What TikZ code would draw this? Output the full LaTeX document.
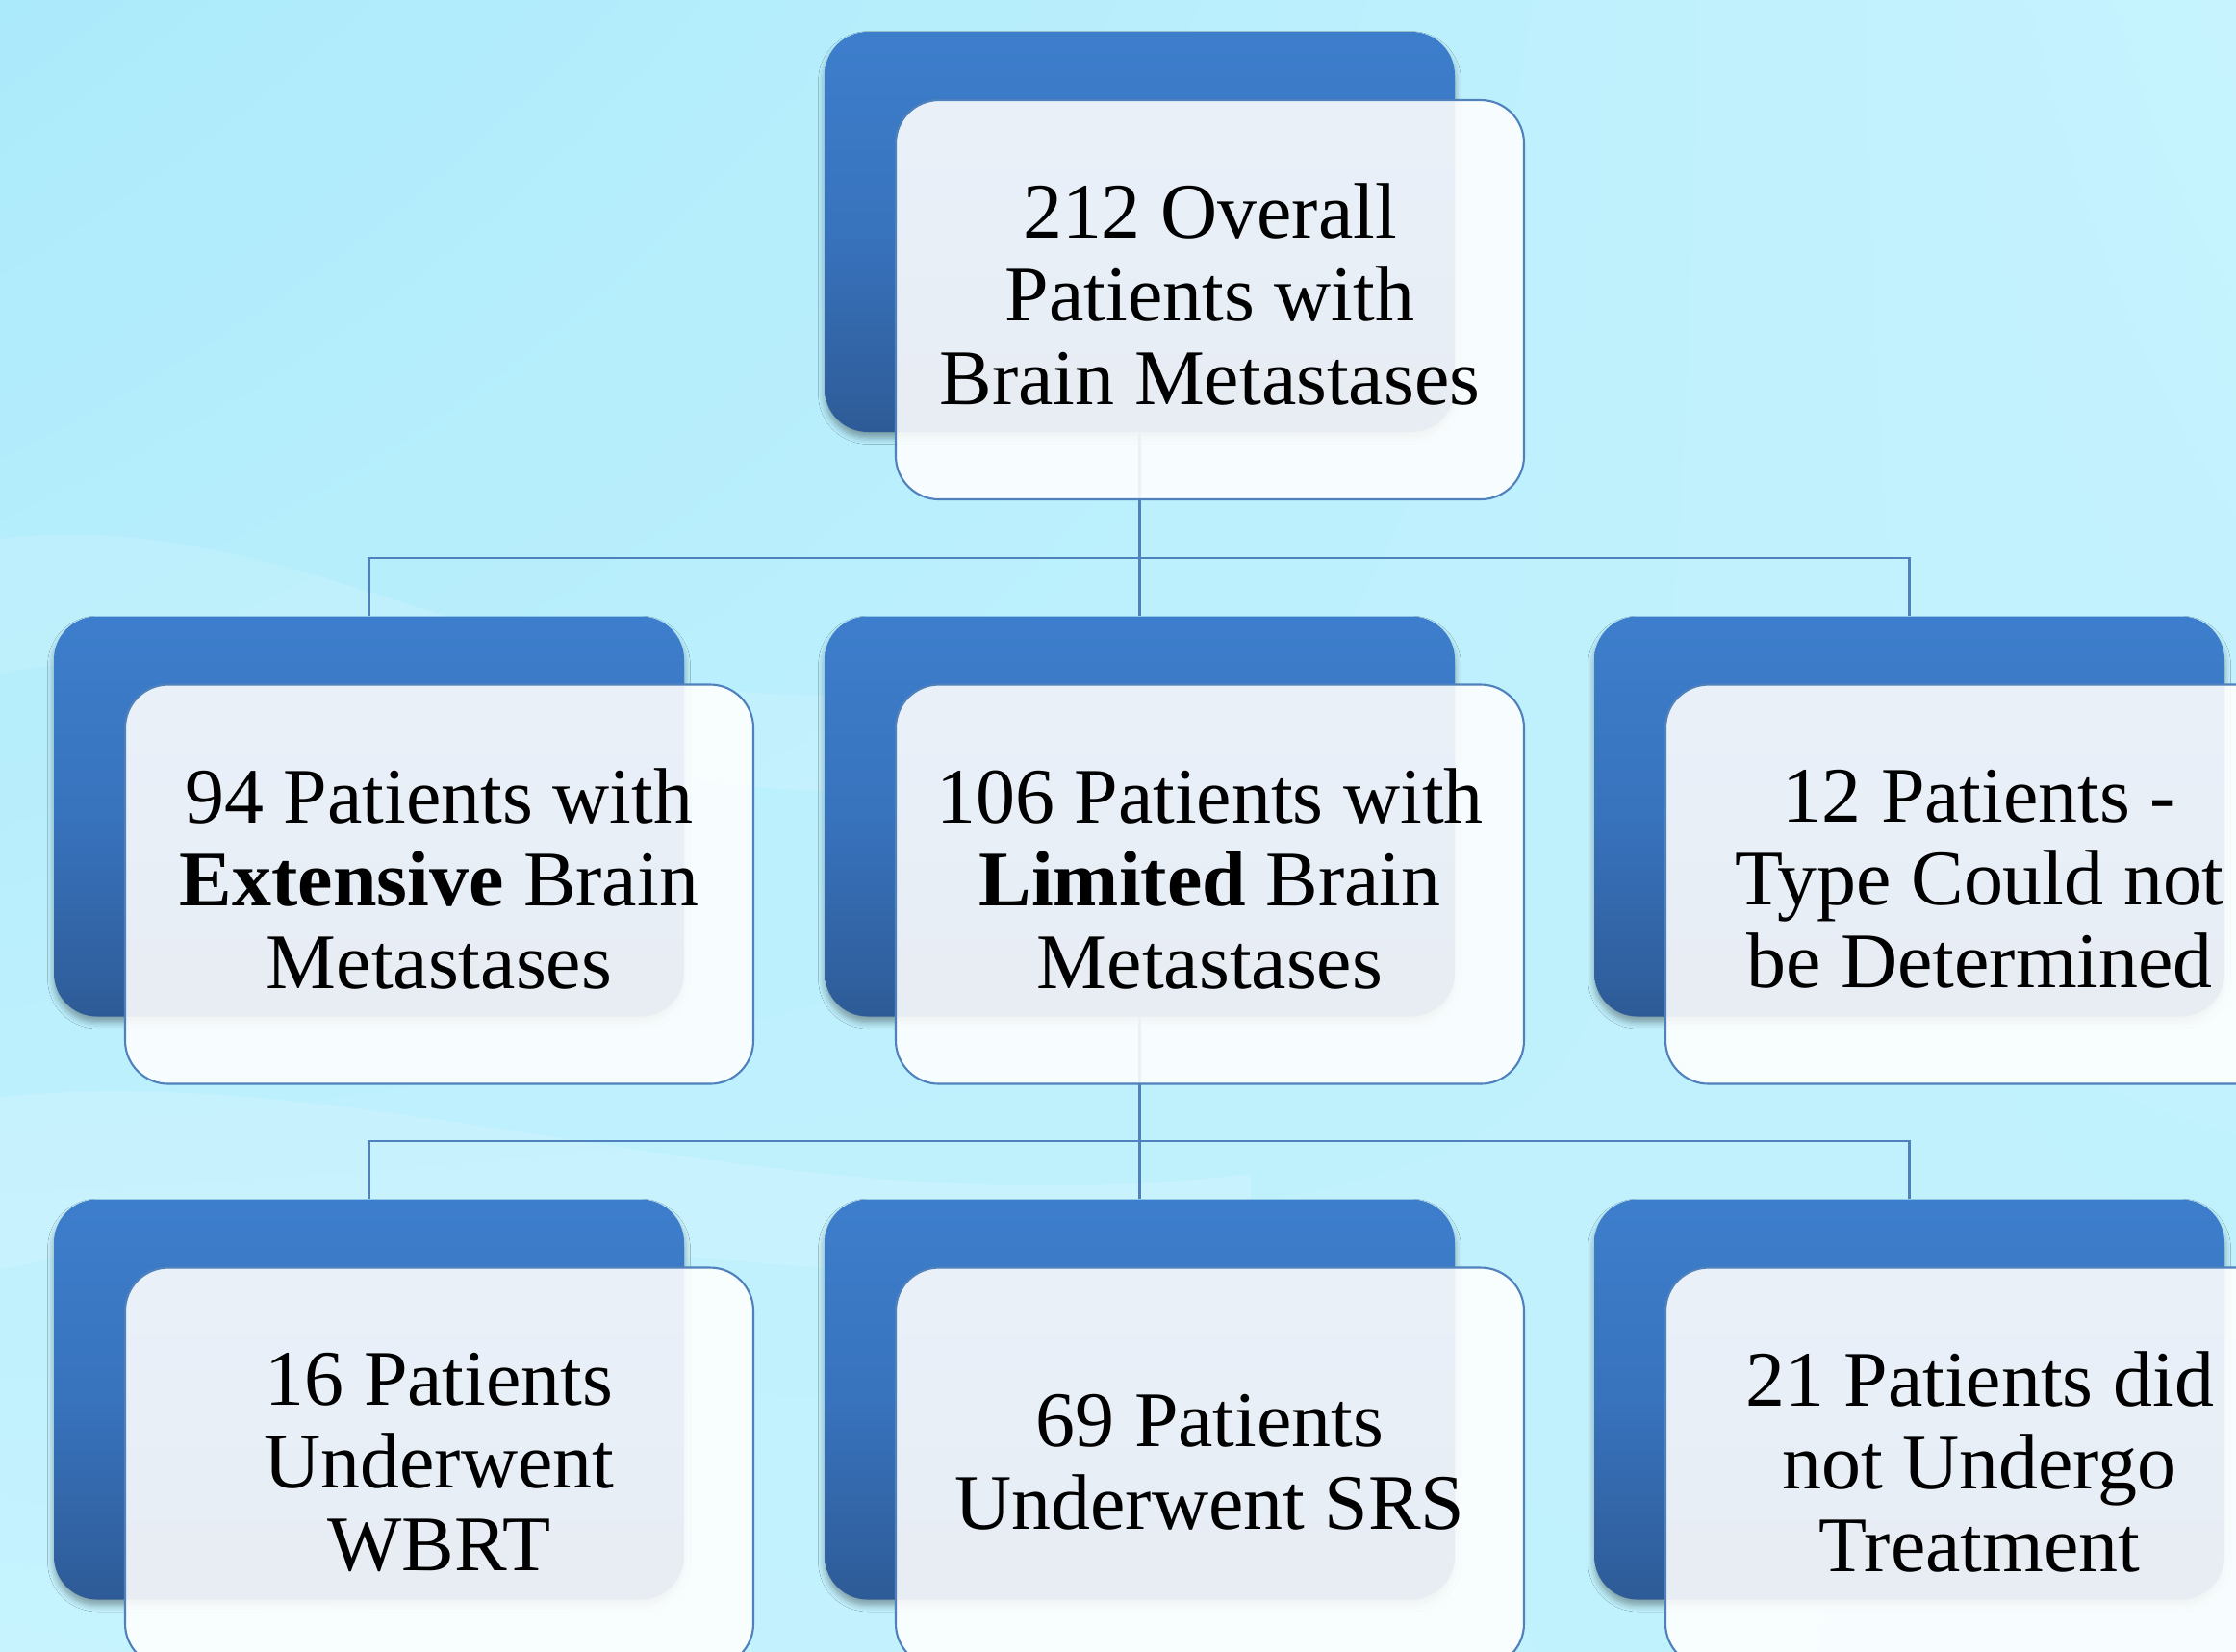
\documentclass[tikz,border=0pt]{standalone}
\usepackage{fontspec}
\setmainfont{Liberation Serif}
\usetikzlibrary{positioning,shadings,shadows.blur}
\definecolor{bgcyan}{HTML}{BEF1FD}
\definecolor{bgdeep}{HTML}{ABEAFB}
\definecolor{bglight}{HTML}{C6F3FE}
\definecolor{boxtop}{HTML}{3D7ECC}
\definecolor{boxmid}{HTML}{3873BD}
\definecolor{boxbot}{HTML}{2E5B97}
\definecolor{edgeblue}{HTML}{4F81BD}
\begin{document}
\begin{tikzpicture}[
    back/.style={rounded corners=0.45cm, minimum width=6.55cm, minimum height=4.16cm, inner sep=0pt,
        top color=boxtop, bottom color=boxbot, middle color=boxmid,
        blur shadow={shadow xshift=0cm, shadow yshift=-0.06cm, shadow blur steps=6, shadow opacity=35}},
    card/.style={rounded corners=0.45cm, minimum width=6.53cm, minimum height=4.15cm, inner sep=0pt,
        draw=edgeblue, line width=0.6pt, fill=white, fill opacity=0.89, text opacity=1,
        align=center, font=\fontsize{23.3}{24.5}\selectfont,
        execute at end node={\rule[-0.12cm]{0pt}{0pt}}},
    link/.style={draw=edgeblue, line width=0.6pt}]
    \useasboundingbox (0,0) rectangle (23.24,-17.16);
    \clip (0,0) rectangle (23.24,-17.16);
    \shade[upper left=bgdeep, upper right=bglight, lower left=bglight, lower right=bgcyan] (0,0) rectangle (23.24,-17.16);
    \fill[white, opacity=0.12] (0,-5.6) .. controls (3,-5.2) and (6,-7.5) .. (9,-7.2) -- (9,-8.2) .. controls (6,-8.4) and (3,-6.4) .. (0,-7) -- cycle;
    \fill[white, opacity=0.14] (0,-11.4) .. controls (4,-11) and (8,-12.8) .. (13,-12.2) -- (13,-13.2) .. controls (8,-13.6) and (4,-12.2) .. (0,-13.2) -- cycle;

    \node[back] (all) at (11.845,-2.41) {};
    \node[back] (ext) at (3.835,-8.485) {};
    \node[back] (lim) at (11.845,-8.485) {};
    \node[back] (und) at (19.845,-8.485) {};
    \node[back] (wbrt) at (3.835,-14.545) {};
    \node[back] (srs) at (11.845,-14.545) {};
    \node[back] (none) at (19.845,-14.545) {};

    \foreach \kid in {ext,lim,und}
        \draw[link] (all.south) -- ++(0,-1.30) -| (\kid.north);
    \foreach \kid in {wbrt,srs,none}
        \draw[link] (lim.south) -- ++(0,-1.29) -| (\kid.north);

    \node[card] (all-txt) at ([shift={(0.73,-0.705)}]all.center) {212 Overall\\Patients with\\Brain Metastases};
    \node[card] (ext-txt) at ([shift={(0.73,-0.705)}]ext.center) {94 Patients with\\\textbf{Extensive} Brain\\Metastases};
    \node[card] (lim-txt) at ([shift={(0.73,-0.705)}]lim.center) {106 Patients with\\\textbf{Limited} Brain\\Metastases};
    \node[card] (und-txt) at ([shift={(0.73,-0.705)}]und.center) {12 Patients -\\Type Could not\\be Determined};
    \node[card] (wbrt-txt) at ([shift={(0.73,-0.705)}]wbrt.center) {16 Patients\\Underwent\\WBRT};
    \node[card] (srs-txt) at ([shift={(0.73,-0.705)}]srs.center) {69 Patients\\Underwent SRS};
    \node[card] (none-txt) at ([shift={(0.73,-0.705)}]none.center) {21 Patients did\\not Undergo\\Treatment};
\end{tikzpicture}
\end{document}
